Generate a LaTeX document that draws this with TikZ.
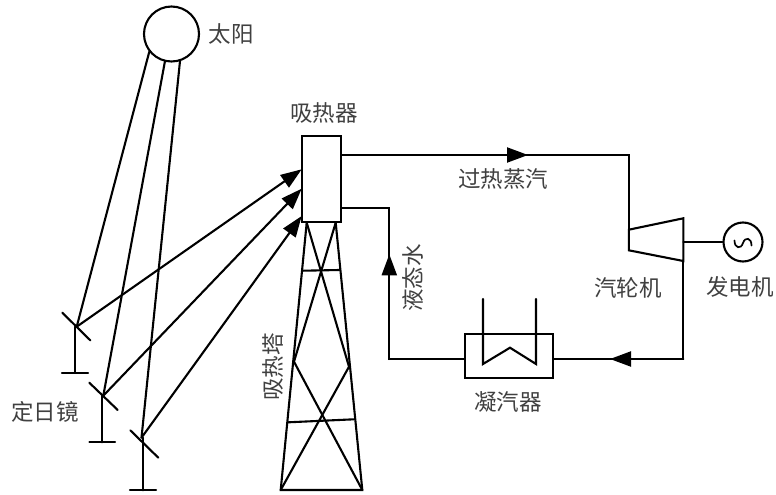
\documentclass[tikz,border=0pt]{standalone}
\usepackage{fontspec}
\setmainfont{Noto Sans CJK SC}
\usetikzlibrary{arrows.meta}
\definecolor{txt}{gray}{0.25}
\tikzset{
  ln/.style={line width=2.1pt,black,line cap=round,line join=miter},
  arr/.style={ln,-{Triangle[length=21pt,width=15pt]},shorten >=0pt},
  lbl/.style={text=txt,font=\fontsize{22.5}{22.5}\selectfont,inner sep=0pt},
  box/.style={draw,ln,inner sep=0pt,fill=white},
}
\begin{document}
\begin{tikzpicture}[x=1pt,y=-1pt]
\useasboundingbox (0,0) rectangle (776,495);
% key points
\coordinate (sa) at (149.3,51.7);
\coordinate (sb) at (165,61);
\coordinate (sc) at (180,61);
\coordinate (m1) at (76.7,326.7);
\coordinate (m2) at (103.3,395.7);
\coordinate (m3) at (141.5,437.7);
\coordinate (r1) at (301.7,169.3);
\coordinate (r2) at (301.7,188.7);
\coordinate (r3) at (301.7,216);
% tower
\coordinate (tl) at (306.7,222.7);
\coordinate (tr) at (335.7,222.7);
\coordinate (bl) at (280.7,490);
\coordinate (br) at (362.3,490);
\coordinate (ml) at (294,361.7);
\coordinate (mr) at (349,366.7);
\coordinate (h1) at (303.3,270.7);
\coordinate (h2) at (339.3,270);
\coordinate (h3) at (288.3,422.3);
\coordinate (h4) at (354,419.3);
\draw[ln] (tl)--(bl)--(br)--(tr);
\draw[ln] (tl)--(mr)--(bl);
\draw[ln] (tr)--(ml)--(br);
\draw[ln] (h1)--(h2);
\draw[ln] (h3)--(h4);
% sun
\node[box,circle,minimum size=55pt] (sun) at (171.5,34) {};
\draw[ln] (sa)--(m1);
\draw[ln] (sb)--(m2);
\draw[ln] (sc)--(m3);
% mirrors
\coordinate (a1) at (62.3,312.7); \coordinate (a2) at (90.3,340.3);
\coordinate (p1) at (75,326.7); \coordinate (q1) at (75,372.7);
\coordinate (c1) at (62,372.7); \coordinate (d1) at (88,372.7);
\draw[ln] (a1)--(a2); \draw[ln] (p1)--(q1); \draw[ln] (c1)--(d1);
\coordinate (a3) at (89.3,382.7); \coordinate (a4) at (117.7,410);
\coordinate (p2) at (102,395.7); \coordinate (q2) at (102,442.3);
\coordinate (c2) at (89.3,442.3); \coordinate (d2) at (115,442.3);
\draw[ln] (a3)--(a4); \draw[ln] (p2)--(q2); \draw[ln] (c2)--(d2);
\coordinate (a5) at (130.3,430.3); \coordinate (a6) at (158.3,457.7);
\coordinate (p3) at (143.3,437.7); \coordinate (q3) at (143.3,490.3);
\coordinate (c3) at (130,490.3); \coordinate (d3) at (156,490.3);
\draw[ln] (a5)--(a6); \draw[ln] (p3)--(q3); \draw[ln] (c3)--(d3);
% reflected rays
\draw[arr] (m1)--(r1);
\draw[arr] (m2)--(r2);
\draw[arr] (m3)--(r3);
% receiver
\node[box,minimum width=38.4pt,minimum height=86pt] (rec) at (321.5,179.3) {};
% steam
\coordinate (s0) at (rec.east|-0,155);
\coordinate (s1) at (628.8,155);
\coordinate (s2) at (628.8,229.7);
\coordinate (sm) at (528,155);
\draw[ln,line cap=butt] (s0)--(s1)--(s2);
\draw[arr] (s0)--(sm);
% turbine
\coordinate (t1) at (628.8,229.7);
\coordinate (t2) at (683.3,218.3);
\coordinate (t3) at (683.3,261);
\coordinate (t4) at (628.8,250.3);
\draw[ln] (t1)--(t2)--(t3)--(t4)--cycle;
% generator
\node[box,circle,minimum size=39pt] (gen) at (743,242) {};
\coordinate (sh) at (683.3,242);
\draw[ln] (sh)--(gen);
\draw[line width=1.7pt,line cap=round] (734.5,240.5) .. controls (734.5,248.5) and (741,249.5) .. (743,243)
  .. controls (745,236.5) and (751.5,237.5) .. (751.5,245.5);
% condenser
\node[box,minimum width=87.8pt,minimum height=43.4pt] (con) at (509.2,356) {};
\coordinate (k1) at (483,299);
\coordinate (k2) at (483,364);
\coordinate (k3) at (510,347.7);
\coordinate (k4) at (536,364);
\coordinate (k5) at (536,299);
\draw[ln] (k1)--(k2)--(k3)--(k4)--(k5);
\coordinate (w1) at (683.3,359);
\coordinate (w2) at (610,359);
\draw[ln,line cap=butt] (t3)--(w1)--(con.east|-w1);
\draw[arr] (w1)--(w2);
% liquid water
\coordinate (f0) at (con.west|-w1);
\coordinate (f1) at (389.3,359);
\coordinate (f2) at (389.3,208.3);
\coordinate (f3) at (rec.east|-f2);
\coordinate (fm) at (389.3,254.3);
\draw[ln,line cap=butt] (f0)--(f1)--(f2)--(f3);
\draw[arr] (f1)--(fm);
% labels
\node[lbl] (l1) at (231,34) {太阳};
\node[lbl] (l2) at (324,113) {吸热器};
\node[lbl] (l3) at (503,179) {过热蒸汽};
\node[lbl,rotate=90] (l4) at (413,278) {液态水};
\node[lbl] (l5) at (628,288) {汽轮机};
\node[lbl] (l6) at (740,287) {发电机};
\node[lbl] (l7) at (508,402) {凝汽器};
\node[lbl] (l8) at (45,412) {定日镜};
\node[lbl,rotate=90] (l9) at (272.5,367) {吸热塔};
\end{tikzpicture}
\end{document}
